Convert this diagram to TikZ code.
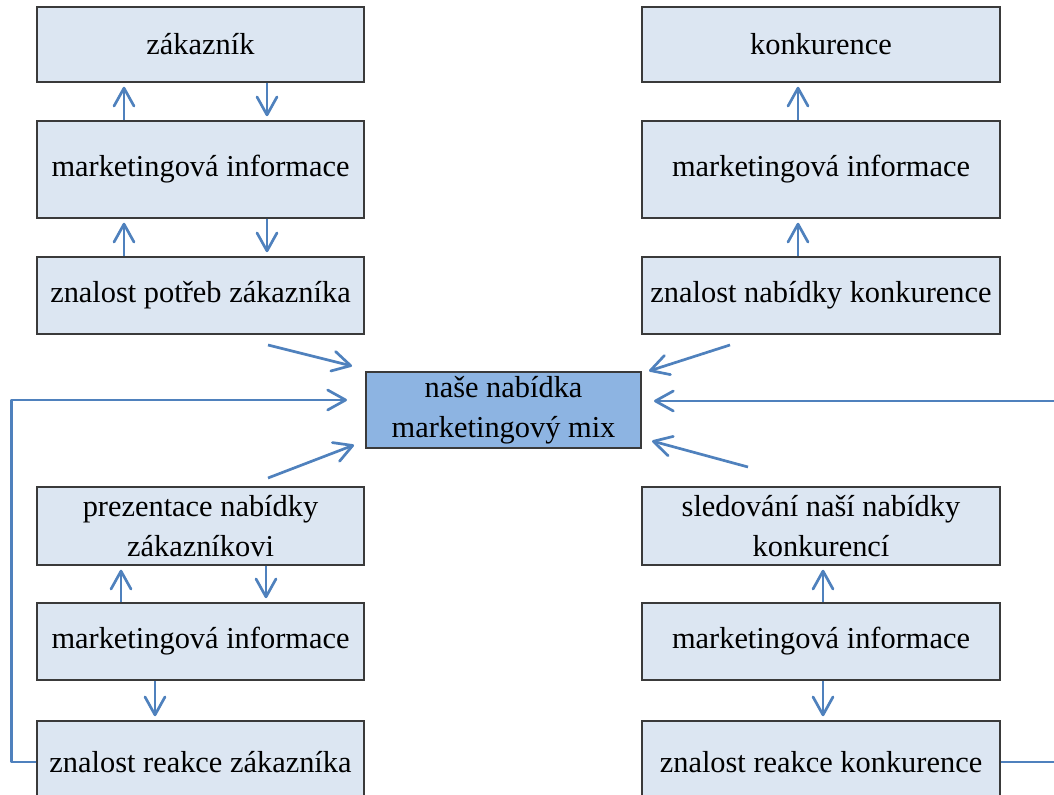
\documentclass[tikz,border=0pt]{standalone}
\usepackage{fontspec}
\setmainfont{Liberation Serif}
\usetikzlibrary{arrows.meta, calc}

\begin{document}
\begin{tikzpicture}[
    x=0.5pt, y=-0.5pt,
    font=\fontsize{15.2}{20}\selectfont
]
% Define colors
\definecolor{boxfill}{HTML}{DCE6F2}
\definecolor{boxline}{HTML}{3A3A3A}
\definecolor{mixfill}{HTML}{8DB4E2}
\definecolor{arrblue}{HTML}{4F81BD}

\tikzset{
    infobox/.style={draw=boxline, line width=0.75pt, fill=boxfill, inner sep=0pt, align=center},
    leftbox/.style={infobox, minimum width=163.5pt},
    rightbox/.style={infobox, minimum width=179pt},
    flow/.style={draw=arrblue, line width=1.35pt, line join=round,
        -{Straight Barb[length=9pt, width=10pt, round]}}
}

% Page frame
\clip (0,0) rectangle (1054,795);

% Column positions
\def\colL{200.5}   % customer side
\def\colR{821}     % competition side

% Row positions (top to bottom)
\def\rowA{44.5}
\def\rowB{169.5}
\def\rowC{295.5}
\def\rowD{526}
\def\rowE{641.5}
\def\rowF{762}

% Left column
\node[leftbox, minimum height=37.5pt] (zak) at (\colL,\rowA) {zákazník};
\node[leftbox, minimum height=48.5pt] (miZak) at (\colL,\rowB) {marketingová informace};
\node[leftbox, minimum height=38.5pt] (znPotreb) at (\colL,\rowC) {znalost potřeb zákazníka};
\node[leftbox, minimum height=39pt] (prez) at (\colL,\rowD) {prezentace nabídky\\zákazníkovi};
\node[leftbox, minimum height=38.5pt] (miPrez) at (\colL,\rowE) {marketingová informace};
\node[leftbox, minimum height=41pt] (znReakceZak) at (\colL,\rowF) {znalost reakce zákazníka};

% Right column
\node[rightbox, minimum height=37.5pt] (kon) at (\colR,\rowA) {konkurence};
\node[rightbox, minimum height=48.5pt] (miKon) at (\colR,\rowB) {marketingová informace};
\node[rightbox, minimum height=38.5pt] (znNabidky) at (\colR,\rowC) {znalost nabídky konkurence};
\node[rightbox, minimum height=39pt] (sled) at (\colR,\rowD) {sledování naší nabídky\\konkurencí};
\node[rightbox, minimum height=38.5pt] (miSled) at (\colR,\rowE) {marketingová informace};
\node[rightbox, minimum height=41pt] (znReakceKon) at (\colR,\rowF) {znalost reakce konkurence};

% Centre
\node[infobox, fill=mixfill, minimum width=137.5pt, minimum height=38pt] (mix) at (503.5,410) {naše nabídka\\marketingový mix};

% Vertical links
\draw[flow, shorten >=2pt] ($(miZak.north)+(-76.5,0)$) -- ($(zak.south)+(-76.5,0)$);
\draw[flow, shorten >=2pt] ($(zak.south)+(66.5,0)$) -- ($(miZak.north)+(66.5,0)$);
\draw[flow, shorten >=2pt] ($(znPotreb.north)+(-76.5,0)$) -- ($(miZak.south)+(-76.5,0)$);
\draw[flow, shorten >=2pt] ($(miZak.south)+(66.5,0)$) -- ($(znPotreb.north)+(66.5,0)$);
\draw[flow, shorten >=2pt] ($(miPrez.north)+(-79.5,0)$) -- ($(prez.south)+(-79.5,0)$);
\draw[flow, shorten >=2pt] ($(prez.south)+(65.5,0)$) -- ($(miPrez.north)+(65.5,0)$);
\draw[flow, shorten >=2pt] ($(miPrez.south)+(-45.5,0)$) -- ($(znReakceZak.north)+(-45.5,0)$);

\draw[flow, shorten >=2pt] ($(miKon.north)+(-23,0)$) -- ($(kon.south)+(-23,0)$);
\draw[flow, shorten >=2pt] ($(znNabidky.north)+(-23,0)$) -- ($(miKon.south)+(-23,0)$);
\draw[flow, shorten >=2pt] ($(miSled.north)+(2,0)$) -- ($(sled.south)+(2,0)$);
\draw[flow, shorten >=2pt] ($(miSled.south)+(2,0)$) -- ($(znReakceKon.north)+(2,0)$);

% Links into the mix
\coordinate (potrebTail) at (268,345);
\coordinate (potrebTip) at (352,366);
\coordinate (prezTail) at (268,478);
\coordinate (prezTip) at (354,445);
\coordinate (nabidkyTail) at (730,345);
\coordinate (nabidkyTip) at (649,371);
\coordinate (sledTail) at (748,467);
\coordinate (sledTip) at (652,441);
\coordinate (loopL) at (347,400);
\coordinate (loopR) at (654,401);

\draw[flow] (potrebTail) -- (potrebTip);
\draw[flow] (prezTail) -- (prezTip);
\draw[flow] (nabidkyTail) -- (nabidkyTip);
\draw[flow] (sledTail) -- (sledTip);

% Feedback loops
\draw[flow] (znReakceZak.west) -- ++(-25,0) |- (loopL);
\draw[flow] (znReakceKon.east) -- ++(80,0) |- (loopR);

\end{tikzpicture}
\end{document}
